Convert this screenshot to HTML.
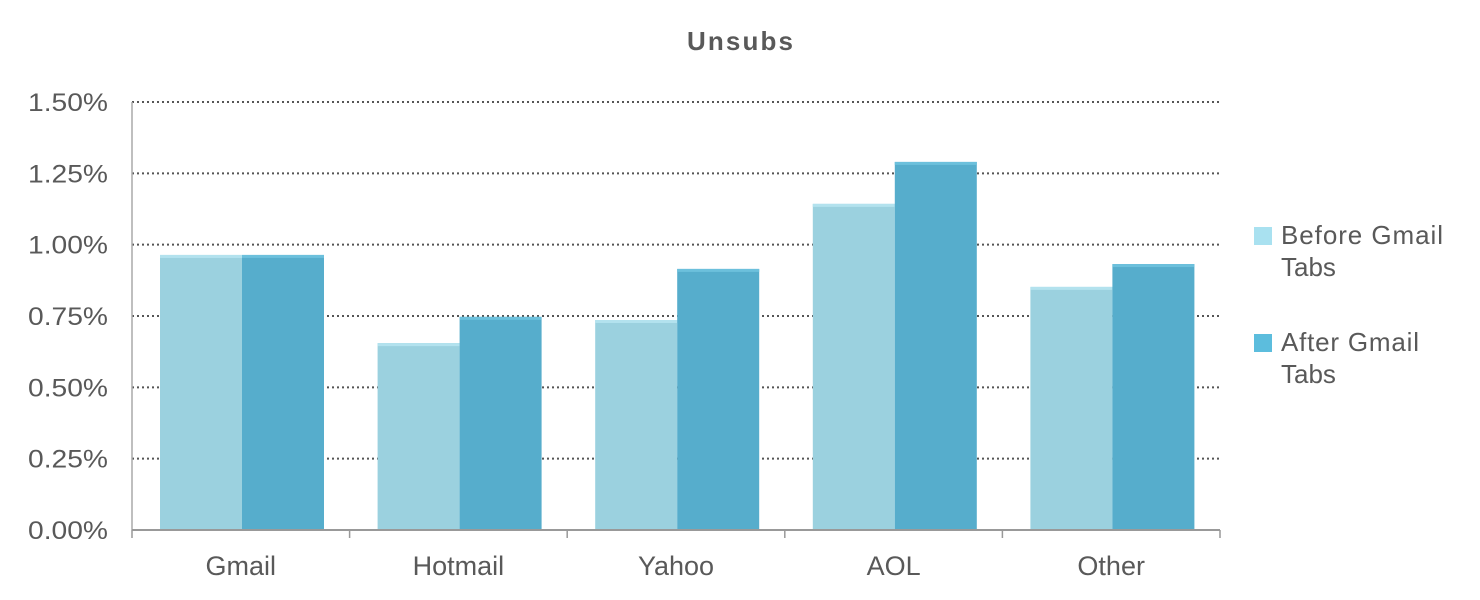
<!DOCTYPE html>
<html><head><meta charset="utf-8"><style>
html,body{margin:0;padding:0;background:#fff;width:1480px;height:600px;overflow:hidden}
text{font-family:"Liberation Sans",Arial,sans-serif}
</style></head><body>
<svg id="chart" width="1480" height="600" viewBox="0 0 1480 600">
<text x="740" y="50" text-anchor="middle" font-size="26" font-weight="bold" fill="#595959" textLength="106">Unsubs</text>
<g id="grid"></g><g id="bars"></g><g id="axes"></g>
<g>
<rect x="1254" y="227" width="18" height="18" fill="#a9e1f0"/>
<text x="1281" y="244" font-size="26" fill="#595959"><tspan x="1281" textLength="162">Before Gmail</tspan><tspan x="1281" dy="32">Tabs</tspan></text>
<rect x="1254" y="334" width="18" height="18" fill="#5cbddd"/>
<text x="1281" y="351" font-size="26" fill="#595959"><tspan x="1281" textLength="138">After Gmail</tspan><tspan x="1281" dy="32">Tabs</tspan></text>
</g>
</svg>
<script>
const categories=["Gmail","Hotmail","Yahoo","AOL","Other"];
const beforeValues=[0.964,0.655,0.736,1.143,0.852];
const afterValues=[0.964,0.747,0.915,1.290,0.932];
const yTicks=[0,0.25,0.5,0.75,1.0,1.25,1.5];
const yTickLabels=["0.00%","0.25%","0.50%","0.75%","1.00%","1.25%","1.50%"];
const NS="http://www.w3.org/2000/svg";
const x0=132,x1=1220,y0=530,y1=102,yMax=1.5;
const y=v=>y0-(v/yMax)*(y0-y1);
const bw=(x1-x0)/categories.length;
const xc=i=>x0+i*bw;
function mk(tag,attrs,parent){const e=document.createElementNS(NS,tag);for(const k in attrs)e.setAttribute(k,attrs[k]);document.getElementById(parent).appendChild(e);return e;}
yTicks.forEach((t,i)=>{
  if(t>0){const l=mk("line",{x1:x0,x2:x1,y1:y(t),y2:y(t),stroke:"#555","stroke-width":2,"stroke-dasharray":"2,3"},"grid");
  
  }
  const tx=mk("text",{x:108,y:y(t)+9,"text-anchor":"end","font-size":25,fill:"#595959",textLength:80,lengthAdjust:"spacingAndGlyphs"},"axes");
  tx.textContent=yTickLabels[i];
  
  
});
const barW=82;
categories.forEach((c,i)=>{
  const bx=xc(i)+28;
  const b1=mk("rect",{x:bx,y:y(beforeValues[i]),width:barW,height:y0-y(beforeValues[i]),fill:"#9bd1df"},"bars");
  
  
  mk("rect",{x:bx,y:y(beforeValues[i]),width:barW,height:3,fill:"#b3e2ee"},"bars");
  const b2=mk("rect",{x:bx+barW,y:y(afterValues[i]),width:barW,height:y0-y(afterValues[i]),fill:"#56adcc"},"bars");
  
  
  mk("rect",{x:bx+barW,y:y(afterValues[i]),width:barW,height:3,fill:"#6cc0dc"},"bars");
  const lt=mk("text",{x:xc(i)+bw/2,y:575,"text-anchor":"middle","font-size":27,fill:"#595959"},"axes");
  lt.textContent=c;
  
  
});
const ya=mk("line",{x1:x0,x2:x0,y1:y1,y2:y0,stroke:"#aaa","stroke-width":1.5},"axes");


const xa=mk("line",{x1:x0,x2:x1,y1:y0,y2:y0,stroke:"#999","stroke-width":2},"axes");


for(let i=0;i<=categories.length;i++){
  const t=mk("line",{x1:xc(i),x2:xc(i),y1:y0,y2:y0+8,stroke:"#999","stroke-width":1.5},"axes");
  
  
}
</script>
</body></html>
